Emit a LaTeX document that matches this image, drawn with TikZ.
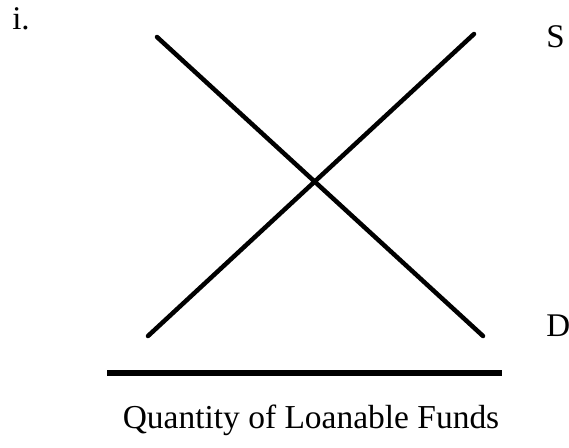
\documentclass[tikz,border=0pt]{standalone}
\usepackage{fontspec}
\setmainfont{Liberation Serif}
\begin{document}
\begin{tikzpicture}[x=0.025cm,y=-0.025cm]
\tikzset{curve/.style={line width=3.2pt,line cap=round},
         lbl/.style={inner sep=0pt,font=\fontsize{23.5}{26}\selectfont}}
\useasboundingbox (0,0) rectangle (569,447);
% demand and supply
\coordinate (dtop) at (157,37);
\coordinate (dbot) at (483,336);
\coordinate (sbot) at (148,336);
\coordinate (stop) at (474,34);
\draw [curve] (dtop)--(dbot);
\draw [curve] (sbot)--(stop);
% quantity axis
\coordinate (axl) at (107,373);
\coordinate (axr) at (502,373);
\draw [line width=3.7pt] (axl)--(axr);
% labels
\node [lbl,anchor=base west] (part) at (12,29) {i.};
\node [lbl,anchor=base west] (slbl) at (546,47) {S};
\node [lbl,anchor=base west] (dlbl) at (546,336) {D};
\node [lbl,anchor=base,font=\fontsize{23.8}{26}\selectfont] (qlbl) at (311,428) {Quantity of Loanable Funds};
\end{tikzpicture}
\end{document}
